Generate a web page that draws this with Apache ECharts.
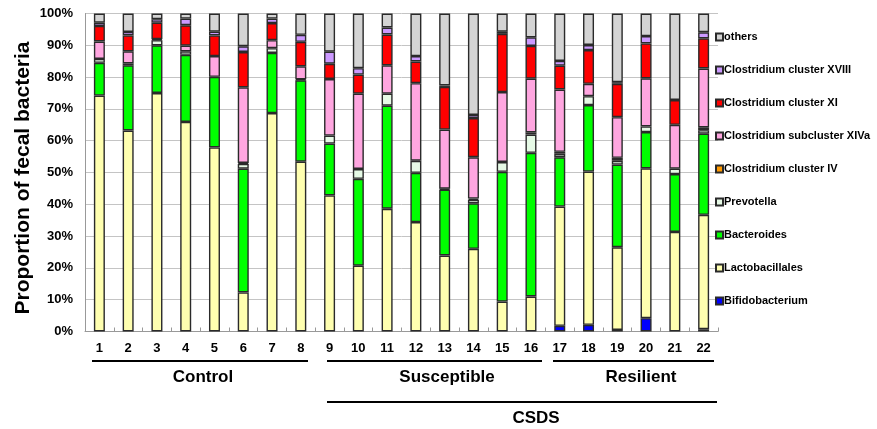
<!DOCTYPE html>
<html>
<head>
<meta charset="utf-8">
<script src="https://cdn.jsdelivr.net/npm/echarts@6/dist/echarts.min.js"></script>
<style>
  html, body { margin: 0; padding: 0; background: #fff; }
  #chart { width: 877px; height: 429px; }
</style>
</head>
<body>
<div id="chart"></div>
<script>
var categories = ['1','2','3','4','5','6','7','8','9','10','11','12','13','14','15','16','17','18','19','20','21','22'];
var yTicks = [0, 10, 20, 30, 40, 50, 60, 70, 80, 90, 100];
var yTitle = 'Proportion of fecal bacteria';

var bifidobacterium = [0,0,0,0,0,0,0,0,0,0,0,0,0,0,0,0,1.8,2.1,0.5,4.2,0,0.7];
var lactobacillales = [74.2,63.2,75.0,65.9,57.9,12.3,68.7,53.4,42.8,20.7,38.6,34.4,23.9,26.0,9.4,11.0,37.5,48.2,26.0,47.1,31.3,36.0];
var bacteroides     = [10.3,20.5,15.0,21.1,22.2,38.9,18.9,25.6,16.3,27.3,32.4,15.5,20.7,14.3,40.8,45.2,15.5,20.9,26.0,11.4,18.2,25.5];
var prevotella      = [1.2,0.6,1.6,1.1,0,1.5,1.5,0.3,2.5,3.1,3.8,3.8,0.3,1.1,3.1,5.7,1.1,2.8,1.2,1.8,1.7,1.1];
var clostridiumIV   = [0,0,0,0,0,0.3,0,0,0,0,0,0,0,0.4,0,0.7,0.6,0,0.9,0,0,0.9];
var clostridiumXIVa = [5.5,3.8,0.3,1.8,6.5,23.8,2.5,4.1,17.8,23.7,8.9,24.4,18.6,13.0,22.0,16.9,19.6,3.9,12.8,15.1,13.8,18.5];
var clostridiumXI   = [4.9,5.0,5.2,6.4,6.5,11.1,5.4,7.7,4.8,6.0,9.7,6.8,13.4,12.3,18.3,10.3,7.5,10.6,10.5,11.0,7.8,9.5];
var clostridiumXVIII= [1.0,1.1,1.1,2.1,1.2,1.8,1.4,2.2,3.8,2.0,2.2,1.7,0.5,1.0,0.7,2.7,1.5,1.6,0.5,2.3,0,1.9];
var others          = [2.9,5.8,1.8,1.6,5.7,10.3,1.6,6.7,12.0,17.2,4.4,13.4,22.6,31.9,5.7,7.5,14.9,9.9,21.6,7.1,27.2,5.9];

var groupNames = ['Control', 'Susceptible', 'Resilient', 'CSDS'];

var seriesDefs = [
  ['Bifidobacterium', bifidobacterium, '#0000ff'],
  ['Lactobacillales', lactobacillales, '#ffffb0'],
  ['Bacteroides', bacteroides, '#00ff00'],
  ['Prevotella', prevotella, '#e6fae6'],
  ['Clostridium cluster IV', clostridiumIV, '#ff9900'],
  ['Clostridium subcluster XIVa', clostridiumXIVa, '#ffa6e0'],
  ['Clostridium cluster XI', clostridiumXI, '#ff0000'],
  ['Clostridium cluster XVIII', clostridiumXVIII, '#cc99ff'],
  ['others', others, '#d4d4d4']
];

var FONT = '"Liberation Sans", Arial, sans-serif';

var series = seriesDefs.map(function (d) {
  return {
    name: d[0],
    type: 'bar',
    stack: 'total',
    barWidth: 11,
    data: d[1].map(function (v) { return v > 0 ? v : '-'; }),
    itemStyle: { color: d[2], borderColor: '#2a2a2a', borderWidth: 1.4 },
    emphasis: { disabled: true }
  };
});

var chart = echarts.init(document.getElementById('chart'), null, { renderer: 'canvas' });

var lineStyle = { stroke: '#000', lineWidth: 2 };
var txtStyle = function (t, x, y) {
  return { type: 'text', x: x, y: y, style: { text: t, font: 'bold 17px ' + FONT, fill: '#000', textAlign: 'center', textVerticalAlign: 'middle' } };
};

chart.setOption({
  animation: false,
  backgroundColor: '#ffffff',
  grid: { left: 85, right: 159, top: 13.5, bottom: 97.5, containLabel: false },
  legend: {
    orient: 'vertical',
    left: 710,
    top: 26,
    itemWidth: 7,
    itemHeight: 7,
    itemGap: 21,
    icon: 'rect',
    selectedMode: false,
    data: ['others', 'Clostridium cluster XVIII', 'Clostridium cluster XI', 'Clostridium subcluster XIVa', 'Clostridium cluster IV', 'Prevotella', 'Bacteroides', 'Lactobacillales', 'Bifidobacterium'],
    textStyle: { fontFamily: FONT, fontWeight: 'bold', fontSize: 11, color: '#000', lineHeight: 12, padding: [0, 0, 0, -4] }
  },
  xAxis: {
    type: 'category',
    data: categories,
    axisLine: { lineStyle: { color: '#999', width: 1 } },
    axisTick: { show: true, inside: true, length: 4, lineStyle: { color: '#999' } },
    axisLabel: { fontFamily: FONT, fontWeight: 'bold', fontSize: 13, color: '#000', margin: 10 }
  },
  yAxis: {
    type: 'value',
    min: 0,
    max: 100,
    interval: 10,
    axisLine: { show: true, lineStyle: { color: '#999' } },
    axisTick: { show: false },
    splitLine: { lineStyle: { color: '#c4c4c4', width: 1 } },
    axisLabel: { fontFamily: FONT, fontWeight: 'bold', fontSize: 13, color: '#000', margin: 12,
      formatter: function (v) { return yTicks.indexOf(v) >= 0 ? v + '%' : ''; } }
  },
  series: series,
  graphic: [
    { type: 'text', x: 23, y: 178, rotation: Math.PI / 2,
      style: { text: yTitle, font: 'bold 21px ' + FONT, fill: '#000', textAlign: 'center', textVerticalAlign: 'middle' } },
    { type: 'line', shape: { x1: 92, y1: 361, x2: 308, y2: 361 }, style: lineStyle },
    { type: 'line', shape: { x1: 327, y1: 361, x2: 542, y2: 361 }, style: lineStyle },
    { type: 'line', shape: { x1: 553, y1: 361, x2: 714, y2: 361 }, style: lineStyle },
    { type: 'line', shape: { x1: 327, y1: 402, x2: 717, y2: 402 }, style: lineStyle },
    txtStyle(groupNames[0], 203, 377),
    txtStyle(groupNames[1], 447, 377),
    txtStyle(groupNames[2], 641, 377),
    txtStyle(groupNames[3], 536, 418)
  ]
});
</script>
</body>
</html>
